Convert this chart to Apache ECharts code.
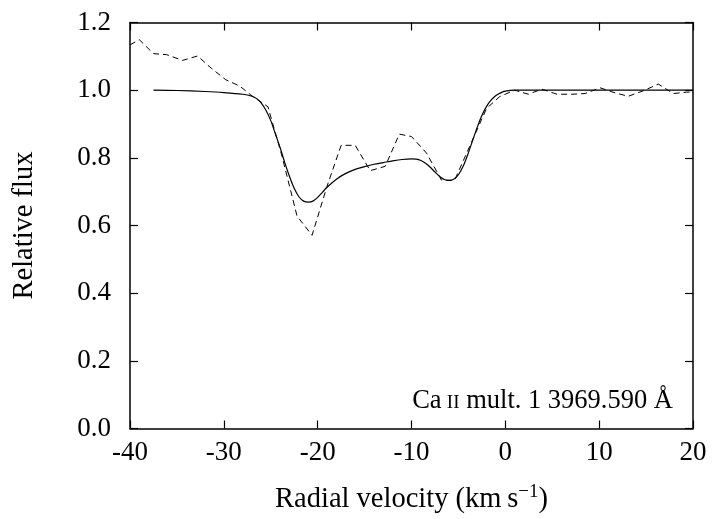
<!DOCTYPE html>
<html>
<head>
<meta charset="utf-8">
<script src="https://cdn.jsdelivr.net/npm/echarts@6/dist/echarts.min.js"></script>
<style>
html,body{margin:0;padding:0;background:#fff;}
#chart{width:714px;height:519px;}
</style>
</head>
<body>
<div id="chart"></div>
<script>
// Observed spectrum (dashed)
const obsVelocity = [-40.0,-39.0,-37.5,-36.1,-34.4,-32.8,-31.3,-29.8,-28.3,-26.9,-25.3,-23.8,-22.2,-20.6,-19.0,-17.5,-16.0,-14.4,-12.8,-11.3,-10.0,-8.4,-6.8,-5.4,-3.8,-2.0,-0.6,1.0,2.45,3.9,5.5,7.1,8.5,10.1,11.7,13.1,14.7,16.3,17.9,19.3,20.0];
const obsFlux     = [1.134,1.149,1.108,1.105,1.088,1.101,1.064,1.031,1.012,0.981,0.951,0.805,0.628,0.571,0.716,0.837,0.837,0.762,0.775,0.870,0.863,0.814,0.734,0.734,0.834,0.946,0.981,1.000,0.988,1.003,0.988,0.988,0.990,1.007,0.992,0.982,0.998,1.018,0.990,0.994,0.995];
// Model profile (solid)
const modVelocity = [-37.5,-35,-32,-30,-28,-27,-26.5,-26,-25.5,-25,-24.5,-24,-23.5,-23,-22.5,-22,-21.5,-21,-20.5,-20,-19.5,-19,-18,-17,-16,-15,-14,-13,-12,-11,-10,-9.5,-9,-8.5,-8,-7.5,-7,-6.5,-6,-5.5,-5,-4.5,-4,-3.5,-3,-2.5,-2,-1.5,-1,-0.5,0,1,5,10,15,20];
const modFlux     = [1.000,0.999,0.996,0.993,0.988,0.982,0.975,0.962,0.940,0.910,0.870,0.830,0.785,0.745,0.710,0.685,0.672,0.669,0.672,0.683,0.698,0.713,0.737,0.754,0.766,0.774,0.781,0.786,0.791,0.795,0.797,0.796,0.792,0.784,0.772,0.758,0.745,0.736,0.733,0.737,0.750,0.775,0.810,0.850,0.890,0.925,0.952,0.971,0.984,0.992,0.997,1.000,1.000,1.000,1.000,1.000];
const xTicks = [-40,-30,-20,-10,0,10,20];
const yTicks = [0.0,0.2,0.4,0.6,0.8,1.0,1.2];

const FONT = '"Liberation Serif","DejaVu Serif",serif';
const chart = echarts.init(document.getElementById('chart'), null, {renderer:'canvas'});
const pair = (xs, ys) => xs.map((x,i)=>[x, ys[i]]);

const axLine = {show:true, onZero:false, lineStyle:{color:'#000', width:1.5}};
const axTick = {show:true, inside:true, length:8, lineStyle:{color:'#000', width:1.2}};

chart.setOption({
  animation:false,
  backgroundColor:'#fff',
  grid:{left:130, right:21, top:22.5, bottom:89, containLabel:false},
  xAxis:[
    {type:'value', min:xTicks[0], max:xTicks[xTicks.length-1], interval:10, position:'bottom',
     axisLine:axLine, axisTick:axTick, splitLine:{show:false},
     axisLabel:{color:'#000', fontFamily:FONT, fontSize:27, margin:11, formatter:v=>String(v)},
     name:'{a|Radial velocity (km\u2009s}{s|\u22121}{a|)}', nameLocation:'middle', nameGap:54,
     nameTextStyle:{rich:{a:{fontFamily:FONT, fontSize:28.5, color:'#000'}, s:{fontFamily:FONT, fontSize:19, color:'#000', verticalAlign:'top', padding:[0,0,15,0]}}}
    },
    {type:'value', min:xTicks[0], max:xTicks[xTicks.length-1], interval:10, position:'top',
     axisLine:axLine, axisTick:axTick, axisLabel:{show:false}, splitLine:{show:false}}
  ],
  yAxis:[
    {type:'value', min:yTicks[0], max:yTicks[yTicks.length-1], interval:0.2, position:'left',
     axisLine:axLine, axisTick:axTick, splitLine:{show:false},
     axisLabel:{color:'#000', fontFamily:FONT, fontSize:27, margin:19, formatter:v=>v.toFixed(1)},
     name:'Relative flux', nameLocation:'middle', nameGap:91,
     nameTextStyle:{fontFamily:FONT, fontSize:28.5, color:'#000'}
    },
    {type:'value', min:yTicks[0], max:yTicks[yTicks.length-1], interval:0.2, position:'right',
     axisLine:axLine, axisTick:axTick, axisLabel:{show:false}, splitLine:{show:false}}
  ],
  series:[
    {type:'line', data:pair(obsVelocity, obsFlux), showSymbol:false, symbol:'none',
     lineStyle:{color:'#000', width:1, type:[6,4]}, z:3},
    {type:'line', data:pair(modVelocity, modFlux), showSymbol:false, symbol:'none', smooth:0.3,
     lineStyle:{color:'#000', width:1.2}, z:4}
  ],
  graphic:[
    {type:'text', x:673, y:415, style:{
      text:'{a|Ca\u2009}{b|II}{a| mult. 1 3969.590 \u00C5}',
      align:'right', verticalAlign:'bottom',
      rich:{a:{fontFamily:FONT, fontSize:26.5, fill:'#000', verticalAlign:'bottom'}, b:{fontFamily:FONT, fontSize:19, fill:'#000', verticalAlign:'bottom', padding:[0,0,2,0]}}
    }}
  ]
});
</script>
</body>
</html>
